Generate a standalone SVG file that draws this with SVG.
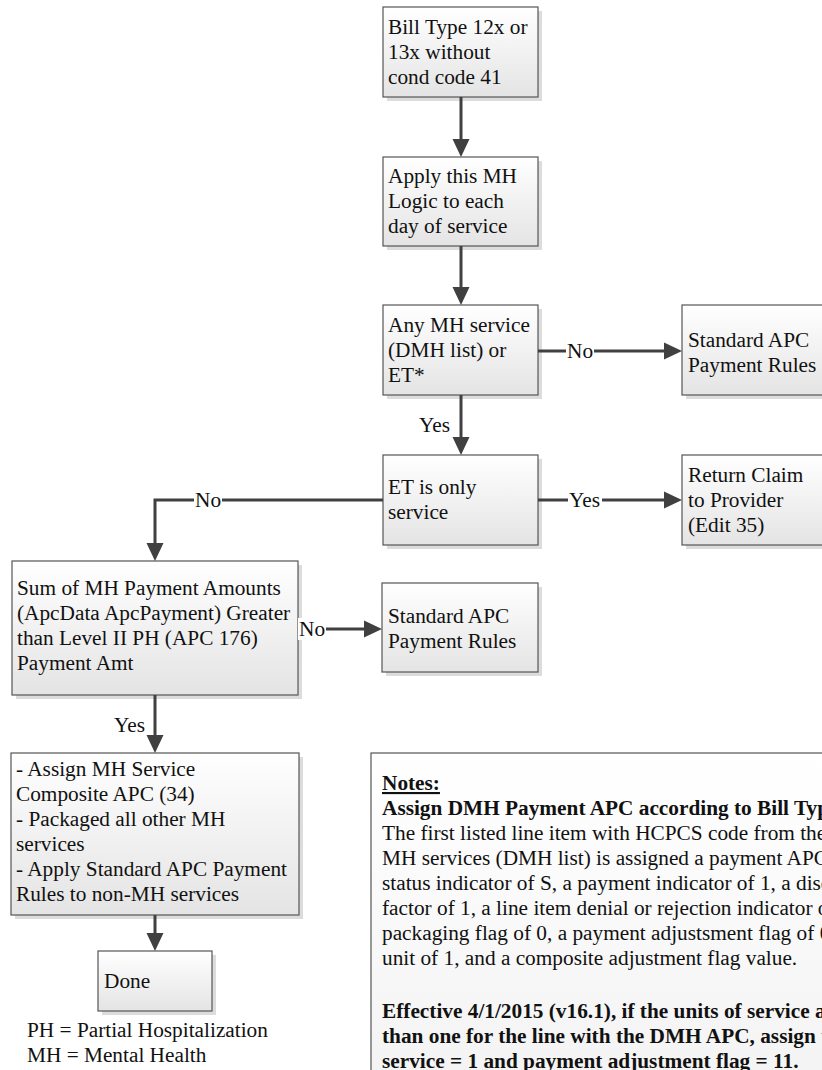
<svg xmlns="http://www.w3.org/2000/svg" width="822" height="1070" viewBox="0 0 822 1070">
<defs>
<linearGradient id="g" x1="0" y1="0" x2="0" y2="1">
<stop offset="0" stop-color="#ffffff"/>
<stop offset="1" stop-color="#e4e4e4"/>
</linearGradient>
<linearGradient id="gn" x1="0" y1="0" x2="0" y2="1">
<stop offset="0" stop-color="#ffffff"/>
<stop offset="1" stop-color="#f3f3f3"/>
</linearGradient>
<marker id="ah" viewBox="0 0 18 18" markerWidth="18" markerHeight="18" markerUnits="userSpaceOnUse" refX="8" refY="9" orient="auto">
<path d="M0,0.5 L18,9 L0,17.5 z" fill="#404040"/>
</marker>
</defs>
<style>
text{font-family:"Liberation Serif","Times New Roman",serif;font-size:21.3px;fill:#111}
.box{fill:url(#g);stroke:#555;stroke-width:1.2}
.sh{fill:#dcdcdc}
.ln{fill:none;stroke:#404040;stroke-width:3;marker-end:url(#ah)}
.lb{fill:#fff}
.b{font-weight:bold}
</style>
<rect width="822" height="1070" fill="#fff"/>

<g id="n1">
<rect class="sh" x="387" y="11" width="155" height="90"/>
<rect class="box" x="383" y="7" width="155" height="90"/>
<text x="388" y="34">Bill Type 12x or</text>
<text x="388" y="59">13x without</text>
<text x="388" y="84">cond code 41</text>
</g>
<g id="n2">
<rect class="sh" x="387" y="161" width="155" height="89"/>
<rect class="box" x="383" y="157" width="155" height="89"/>
<text x="388" y="183">Apply this MH</text>
<text x="388" y="208">Logic to each</text>
<text x="388" y="233">day of service</text>
</g>
<g id="n3">
<rect class="sh" x="387" y="309" width="155" height="90"/>
<rect class="box" x="383" y="305" width="155" height="90"/>
<text x="388" y="332">Any MH service</text>
<text x="388" y="357">(DMH list) or</text>
<text x="388" y="382">ET*</text>
</g>
<g id="n4">
<rect class="sh" x="686" y="309" width="156" height="90"/>
<rect class="box" x="682" y="305" width="156" height="90"/>
<text x="688" y="347">Standard APC</text>
<text x="688" y="372">Payment Rules</text>
</g>
<g id="n5">
<rect class="sh" x="387" y="459" width="155" height="90"/>
<rect class="box" x="383" y="455" width="155" height="90"/>
<text x="388" y="494">ET is only</text>
<text x="388" y="519">service</text>
</g>
<g id="n6">
<rect class="sh" x="686" y="459" width="156" height="90"/>
<rect class="box" x="682" y="455" width="156" height="90"/>
<text x="688" y="482">Return Claim</text>
<text x="688" y="507">to Provider</text>
<text x="688" y="532">(Edit 35)</text>
</g>
<g id="n7">
<rect class="sh" x="16" y="565" width="286" height="134"/>
<rect class="box" x="12" y="561" width="286" height="134"/>
<text x="17" y="595">Sum of MH Payment Amounts</text>
<text x="17" y="620">(ApcData ApcPayment) Greater</text>
<text x="17" y="645">than Level II PH (APC 176)</text>
<text x="17" y="670">Payment Amt</text>
</g>
<g id="n8">
<rect class="sh" x="386" y="587" width="156" height="89"/>
<rect class="box" x="382" y="583" width="156" height="89"/>
<text x="388" y="623">Standard APC</text>
<text x="388" y="648">Payment Rules</text>
</g>
<g id="n9">
<rect class="sh" x="15" y="757" width="288" height="162"/>
<rect class="box" x="11" y="753" width="288" height="162"/>
<text x="16" y="776">- Assign MH Service</text>
<text x="16" y="801">Composite APC (34)</text>
<text x="16" y="826">- Packaged all other MH</text>
<text x="16" y="851">services</text>
<text x="16" y="876">- Apply Standard APC Payment</text>
<text x="16" y="901">Rules to non-MH services</text>
</g>
<g id="n10">
<rect class="sh" x="102" y="955" width="114" height="60"/>
<rect class="box" x="98" y="951" width="114" height="60"/>
<text x="104" y="988">Done</text>
</g>
<g id="legend">
<text x="27" y="1037">PH = Partial Hospitalization</text>
<text x="27" y="1062">MH = Mental Health</text>
</g>
<g id="notes">
<rect x="371" y="753" width="470" height="340" fill="url(#gn)" stroke="#555" stroke-width="1.2"/>
<text x="382" y="790" class="b" text-decoration="underline">Notes:</text>
<text x="382" y="815" class="b">Assign DMH Payment APC according to Bill Type</text>
<text x="382" y="840">The first listed line item with HCPCS code from the</text>
<text x="382" y="865">MH services (DMH list) is assigned a payment APC</text>
<text x="382" y="890">status indicator of S, a payment indicator of 1, a discount</text>
<text x="382" y="915">factor of 1, a line item denial or rejection indicator of 0, a</text>
<text x="382" y="940">packaging flag of 0, a payment adjustsment flag of 0, a</text>
<text x="382" y="965">unit of 1, and a composite adjustment flag value.</text>
<text x="382" y="1018" class="b">Effective 4/1/2015 (v16.1), if the units of service are greater</text>
<text x="382" y="1043" class="b">than one for the line with the DMH APC, assign units of</text>
<text x="382" y="1068" class="b">service = 1 and payment adjustment flag = 11.</text>
</g>

<g id="connectors">
<line class="ln" x1="461" y1="97" x2="461" y2="147"/>
<line class="ln" x1="461" y1="246" x2="461" y2="295"/>
<line class="ln" x1="538" y1="351" x2="672" y2="351"/>
<rect class="lb" x="566" y="340" width="28" height="22"/>
<text x="567" y="358">No</text>
<line class="ln" x1="461" y1="395" x2="461" y2="445"/>
<text x="419" y="432">Yes</text>
<line class="ln" x1="538" y1="500" x2="672" y2="500"/>
<rect class="lb" x="568" y="489" width="34" height="22"/>
<text x="569" y="507">Yes</text>
<polyline class="ln" points="383,500 155,500 155,551"/>
<rect class="lb" x="194" y="489" width="28" height="22"/>
<text x="195" y="507">No</text>
<line class="ln" x1="298" y1="629" x2="372" y2="629"/>
<rect class="lb" x="298" y="618" width="28" height="22"/>
<text x="299" y="636">No</text>
<line class="ln" x1="155" y1="695" x2="155" y2="743"/>
<text x="114" y="732">Yes</text>
<line class="ln" x1="155" y1="915" x2="155" y2="941"/>
</g>
</svg>
